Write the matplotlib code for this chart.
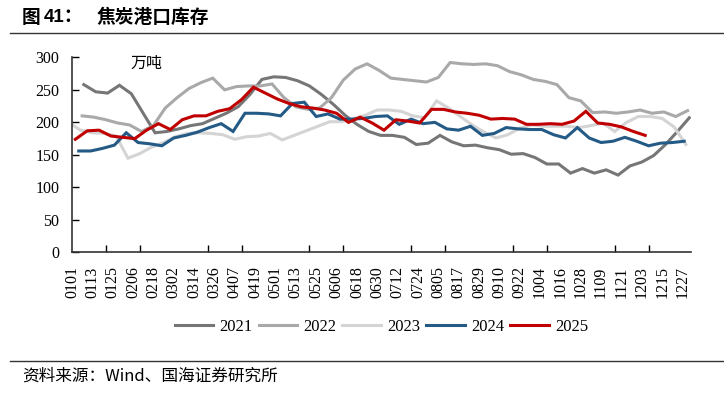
import pandas as pd
import matplotlib
matplotlib.use('Agg')
import matplotlib.pyplot as plt
from matplotlib.lines import Line2D

plt.rcParams['font.family'] = ['Liberation Serif', 'Noto Sans CJK SC']

# 焦炭港口库存, 周度(周五), 万吨
years = ['2021', '2022', '2023', '2024', '2025']
first_date = ['2021-01-08', '2022-01-07', '2022-12-30', '2024-01-05', '2025-01-03']

v2021 = [258, 247, 245, 257, 244, 214, 184, 186, 190, 195,
         198, 206, 214, 224, 243, 266, 270, 269, 264, 256,
         243, 228, 211, 197, 186, 180, 180, 177, 166, 168,
         180, 170, 164, 165, 161, 158, 151, 152, 146, 136,
         136, 122, 129, 122, 127, 119, 133, 139, 149, 166,
         186, 207]
v2022 = [210, 208, 204, 199, 196, 186, 195, 222, 238, 252,
         261, 268, 250, 255, 256, 256, 259, 238, 224, 220,
         222, 238, 265, 282, 290, 280, 268, 266, 264, 262,
         269, 292, 290, 289, 290, 287, 278, 273, 266, 263,
         258, 238, 233, 215, 216, 214, 216, 219, 214, 216,
         209, 218]
v2023 = [200, 188, 184, 183, 179, 145, 152, 162, 169, 178,
         183, 184, 183, 181, 174, 178, 179, 183, 173, 180,
         187, 194, 201, 201, 206, 211, 219, 219, 217, 210,
         207, 233, 222, 209, 196, 185, 176, 181, 191, 196,
         194, 194, 194, 192, 195, 199, 186, 200, 209, 209,
         206, 193, 166]
v2024 = [156, 156, 160, 165, 184, 169, 167, 164, 176, 180,
         185, 192, 198, 186, 214, 214, 213, 210, 229, 231,
         209, 213, 205, 205, 206, 209, 210, 197, 205, 198,
         200, 190, 188, 194, 180, 183, 192, 190, 189, 189,
         181, 176, 192, 176, 169, 171, 177, 171, 164, 168,
         169, 171]
v2025 = [174, 187, 188, 179, 177, 175, 188, 198, 189, 204,
         210, 210, 217, 221, 235, 254, 245, 236, 229, 224,
         222, 219, 214, 200, 208, 199, 188, 204, 202, 199,
         220, 220, 216, 214, 211, 205, 206, 205, 197, 197,
         198, 197, 202, 217, 199, 197, 193, 186, 180]
values = [v2021, v2022, v2023, v2024, v2025]
colors = ['#767676', '#a9a9a9', '#d4d4d4', '#245a86', '#c00000']

tick_labels = ['0101', '0113', '0125', '0206', '0218', '0302', '0314', '0326',
               '0407', '0419', '0501', '0513', '0525', '0606', '0618', '0630',
               '0712', '0724', '0805', '0817', '0829', '0910', '0922', '1004',
               '1016', '1028', '1109', '1121', '1203', '1215', '1227']

fig = plt.figure(figsize=(7.24, 3.96), dpi=100)
ax = fig.add_axes([0.0994, 0.3624, 0.855, 0.4929])

handles = []
for yr, start, vals, c in zip(years, first_date, values, colors):
    dates = pd.date_range(start, periods=len(vals), freq='7D')
    days = (dates - pd.Timestamp(yr + '-01-01')).days
    h, = ax.plot(days, vals, color=c, lw=2.2, solid_joinstyle='miter')
    handles.append(h)

ax.set_xlim(0, 365)
ax.set_ylim(0, 300)
ax.set_yticks(range(0, 301, 50))
tick_pos = [pd.Timestamp('2021' + t).dayofyear - 1 for t in tick_labels]
ax.set_xticks(tick_pos, tick_labels, rotation=90)
ax.set_xticks(range(20, 365, 20), minor=True)
ax.tick_params(axis='x', which='major', length=0, pad=10, labelsize=11.5)
ax.tick_params(axis='x', which='minor', length=5, direction='in', width=1)
ax.tick_params(axis='y', length=5, direction='in', width=1, pad=9, labelsize=11.5)
for s in ['top', 'right']:
    ax.spines[s].set_visible(False)
for s in ['left', 'bottom']:
    ax.spines[s].set_color('#333333')
    ax.spines[s].set_linewidth(1.2)

ax.text(0.094, 0.97, '万吨', transform=ax.transAxes, fontsize=11.5,
        family=['Noto Sans CJK SC'], va='center')

fig.legend(handles, years, loc='center', bbox_to_anchor=(0.527, 0.174), ncol=5,
           frameon=False, handlelength=2.3, columnspacing=0.35, handletextpad=0.4,
           fontsize=12)

fig.text(22 / 724, 0.955, '图', fontsize=13.5, fontweight='bold',
         family=['Noto Sans CJK SC'], va='center')
fig.text(44 / 724, 0.955, '41：', fontsize=13.5, fontweight='bold',
         family=['Liberation Sans', 'Noto Sans CJK SC'], va='center')
fig.text(97 / 724, 0.955, '焦炭港口库存', fontsize=13.5, fontweight='bold',
         family=['Noto Sans CJK SC'], va='center')
fig.add_artist(Line2D([10 / 724, 1], [1 - 33 / 396] * 2, color='#333333', lw=1))
fig.add_artist(Line2D([10 / 724, 1], [1 - 361 / 396] * 2, color='#333333', lw=1))
fig.text(22 / 724, 0.049, '资料来源：Wind、国海证券研究所', fontsize=12,
         family=['Noto Sans CJK SC'], va='center')

fig.savefig('out.png', dpi=100)
